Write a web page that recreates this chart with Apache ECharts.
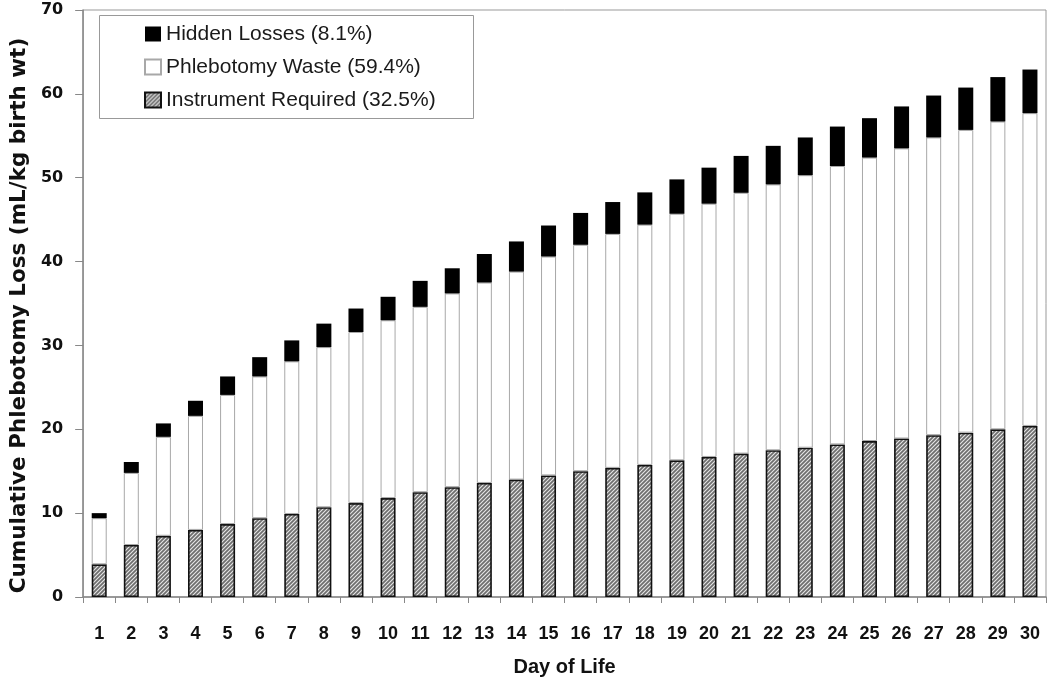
<!DOCTYPE html>
<html>
<head>
<meta charset="utf-8">
<script src="https://cdn.jsdelivr.net/npm/echarts@6/dist/echarts.min.js"></script>
<style>
html,body{margin:0;padding:0;background:#fff;}
#chart{width:1050px;height:690px;}
</style>
</head>
<body>
<div id="chart"></div>
<script>
// ---- Data ----
var days = ['1','2','3','4','5','6','7','8','9','10','11','12','13','14','15','16','17','18','19','20','21','22','23','24','25','26','27','28','29','30'];
var instrumentRequired = [3.9,6.2,7.3,8.0,8.7,9.4,9.9,10.7,11.2,11.8,12.5,13.1,13.6,14.0,14.5,15.0,15.4,15.75,16.3,16.7,17.1,17.5,17.8,18.2,18.6,18.9,19.3,19.6,20.0,20.4];
var phlebotomyWaste = [5.5,8.6,11.8,13.6,15.4,16.9,18.2,19.1,20.4,21.2,22.1,23.1,23.9,24.8,26.1,27.0,27.9,28.65,29.4,30.2,31.1,31.7,32.5,33.2,33.8,34.6,35.5,36.1,36.7,37.3];
var hiddenLosses = [0.6,1.3,1.6,1.8,2.2,2.3,2.5,2.8,2.8,2.8,3.1,3.0,3.4,3.6,3.7,3.8,3.8,3.85,4.1,4.3,4.4,4.6,4.5,4.7,4.7,5.0,5.0,5.05,5.3,5.2];
var seriesNames = ['Hidden Losses (8.1%)','Phlebotomy Waste (59.4%)','Instrument Required (32.5%)'];
var yTicks = {min:0, max:70, interval:10};

// hatch pattern
var pc = document.createElement('canvas');
pc.width = 4; pc.height = 4;
var g = pc.getContext('2d');
g.fillStyle = '#6e6e6e';
g.fillRect(0,0,4,4);
g.strokeStyle = '#e6e6e6';
g.lineWidth = 1.1;
g.beginPath();
g.moveTo(-1,5); g.lineTo(5,-1);
g.moveTo(3,5); g.lineTo(5,3);
g.moveTo(-1,1); g.lineTo(1,-1);
g.stroke();
var hatch = {image: pc, repeat: 'repeat'};

var FONT = '"Liberation Sans", Arial, sans-serif';
var WIDE = '"DejaVu Sans", sans-serif';
var chart = echarts.init(document.getElementById('chart'), null, {renderer:'canvas'});
chart.setOption({
  animation:false,
  backgroundColor:'#fff',
  grid:{left:82, right:4, top:10, bottom:93, show:true, borderColor:'#999', borderWidth:1, backgroundColor:'transparent'},
  graphic:[{type:'rect', left:99, top:15, shape:{width:374, height:103}, style:{fill:'#fff', stroke:'#999', lineWidth:1}, z:5}],
  legend:{
    data:[seriesNames[0], seriesNames[1], seriesNames[2]],
    orient:'vertical', left:144, top:23, z:10, padding:0,
    icon:'rect',
    itemWidth:16, itemHeight:15, itemGap:11,
    textStyle:{fontFamily:FONT, fontSize:21, color:'#1a1a1a', lineHeight:22, padding:[0,0,0,0]},
    selectedMode:false
  },
  xAxis:{
    type:'category', data:days,
    axisLine:{lineStyle:{color:'#888', width:1.5}},
    axisTick:{show:true, inside:false, length:6, alignWithLabel:false, lineStyle:{color:'#888'}},
    axisLabel:{interval:0, margin:28, fontFamily:FONT, fontSize:18, fontWeight:'bold', color:'#111'},
    name:'Day of Life', nameLocation:'middle', nameGap:60,
    nameTextStyle:{fontFamily:FONT, fontSize:20, fontWeight:'bold', color:'#111'}
  },
  yAxis:{
    type:'value', min:yTicks.min, max:yTicks.max, interval:yTicks.interval,
    axisLine:{show:true, lineStyle:{color:'#888', width:1.5}},
    axisTick:{show:true, length:8, lineStyle:{color:'#888'}},
    splitLine:{show:false},
    axisLabel:{margin:20, fontFamily:WIDE, fontSize:16, fontWeight:'bold', color:'#111'},
    name:'Cumulative Phlebotomy Loss (mL/kg birth wt)', nameLocation:'middle', nameGap:47,
    nameTextStyle:{fontFamily:WIDE, fontSize:21.5, fontWeight:'bold', color:'#111', padding:[0,0,0,-24]}
  },
  series:[
    {name:seriesNames[2], type:'bar', stack:'a', barWidth:15, data:instrumentRequired,
     itemStyle:{color:hatch, borderColor:'#111', borderWidth:1.6}},
    {name:seriesNames[1], type:'bar', stack:'a', barWidth:15, data:phlebotomyWaste,
     itemStyle:{color:'#fff', borderColor:'#a8a8a8', borderWidth:1}},
    {name:seriesNames[0], type:'bar', stack:'a', barWidth:15, data:hiddenLosses,
     itemStyle:{color:'#000', borderColor:'#000', borderWidth:0}}
  ]
});
</script>
</body>
</html>
